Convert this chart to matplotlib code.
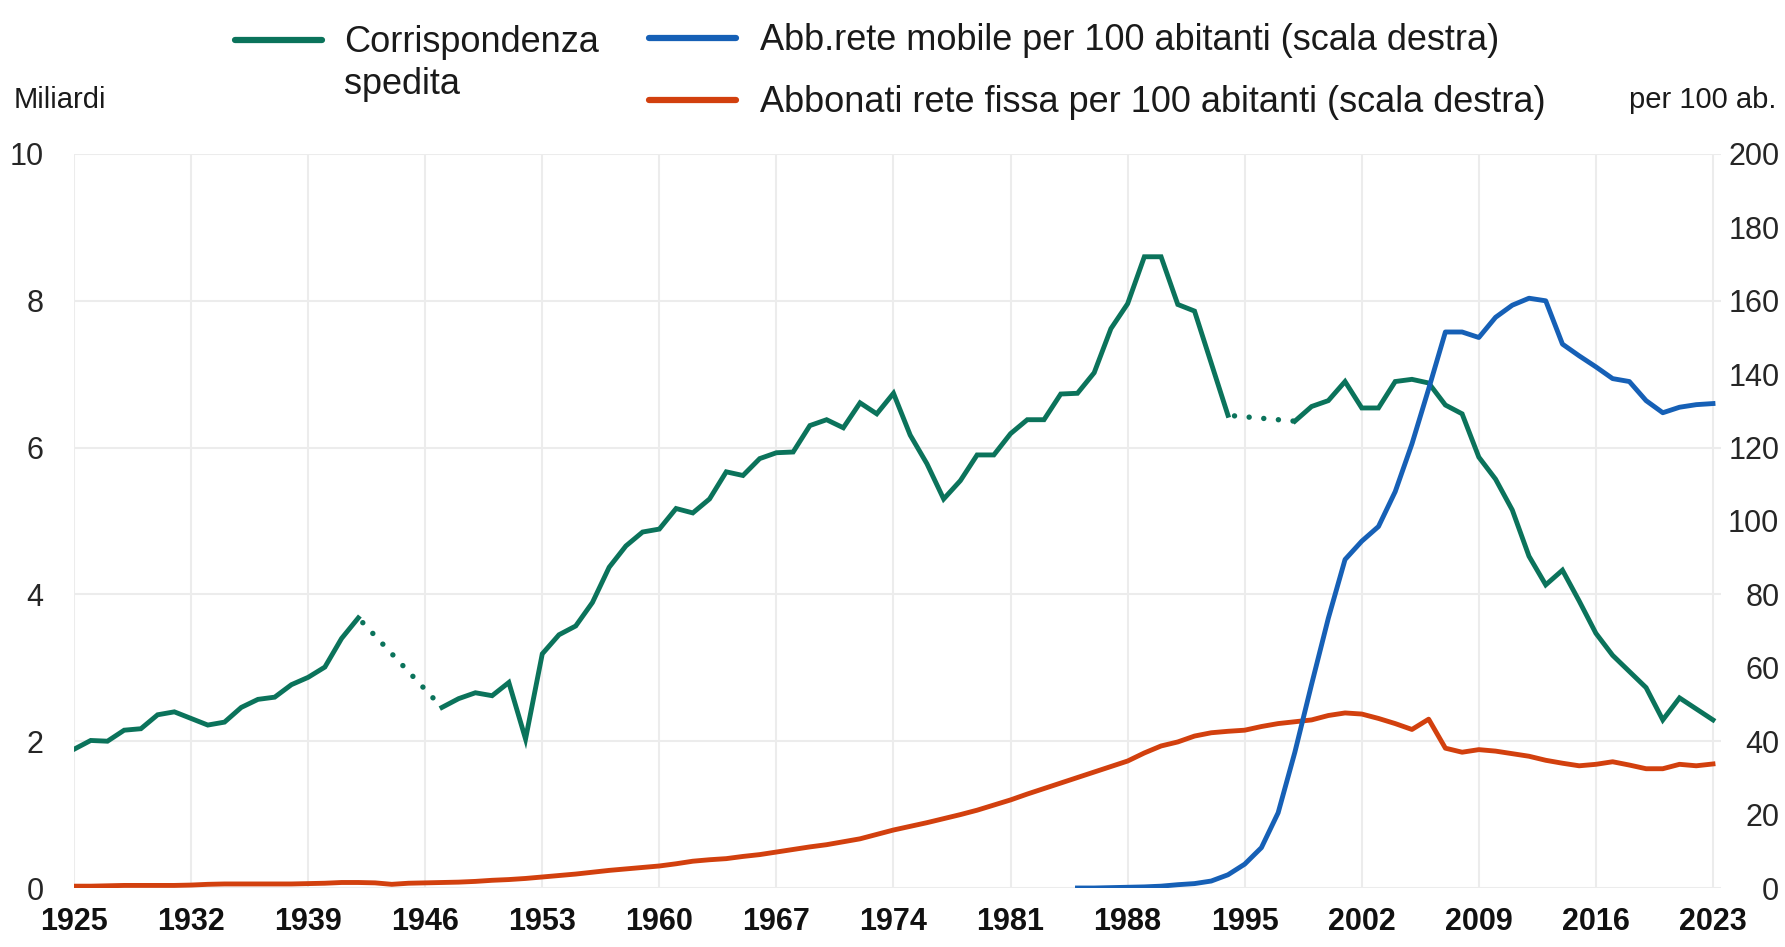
import numpy as np
import matplotlib.pyplot as plt
from matplotlib import font_manager
from matplotlib.lines import Line2D

names = {f.name for f in font_manager.fontManager.ttflist}
main_font = 'Liberation Sans Narrow' if 'Liberation Sans Narrow' in names else 'Liberation Sans'
plt.rcParams['font.family'] = [main_font, 'DejaVu Sans']

# data
years = np.arange(1925, 2024)

posta = [1.89, 2.01, 2.00, 2.15, 2.17, 2.36, 2.40, 2.31, 2.22, 2.26,      # 1925-1934
         2.46, 2.57, 2.60, 2.77, 2.87, 3.01, 3.40, 3.68,                  # 1935-1942
         None, None, None, None,                                          # 1943-1946
         2.46, 2.58, 2.66, 2.62, 2.80, 2.03, 3.19, 3.45,                  # 1947-1954
         3.57, 3.89, 4.37, 4.66, 4.85, 4.89, 5.17, 5.11, 5.30, 5.67,      # 1955-1964
         5.62, 5.85, 5.93, 5.94, 6.30, 6.38, 6.27, 6.61, 6.46, 6.74,      # 1965-1974
         6.17, 5.78, 5.30, 5.55, 5.90, 5.90, 6.19, 6.38, 6.38, 6.73,      # 1975-1984
         6.74, 7.02, 7.62, 7.96, 8.60, 8.60, 7.95, 7.86, 7.15, 6.44,      # 1985-1994
         None, None, None,                                                # 1995-1997
         6.36, 6.56, 6.64, 6.90, 6.54, 6.54, 6.90,                        # 1998-2004
         6.93, 6.88, 6.58, 6.46, 5.87, 5.57, 5.15, 4.52, 4.13, 4.33,      # 2005-2014
         3.91, 3.47, 3.17, 2.95, 2.73, 2.29, 2.59, 2.44, 2.29]            # 2015-2023

fissa = [0.5, 0.5, 0.6, 0.7, 0.7, 0.7, 0.7, 0.8, 1.0, 1.1,
         1.1, 1.1, 1.1, 1.1, 1.2, 1.3, 1.5, 1.5, 1.4, 1.0,
         1.3, 1.4, 1.5, 1.6, 1.8, 2.1, 2.3, 2.6, 3.0, 3.4,
         3.8, 4.3, 4.8, 5.2, 5.6, 6.0, 6.6, 7.3, 7.7, 8.0,
         8.6, 9.1, 9.8, 10.5, 11.2, 11.8, 12.6, 13.4, 14.6, 15.8,
         16.8, 17.8, 18.9, 20.0, 21.2, 22.6, 24.0, 25.6, 27.1, 28.6,
         30.1, 31.6, 33.1, 34.6, 36.8, 38.7, 39.8, 41.4, 42.3, 42.7,
         43.0, 44.0, 44.8, 45.3, 45.8, 47.0, 47.7, 47.4, 46.2, 44.8,
         43.2, 46.0, 38.1, 37.0, 37.7, 37.3, 36.6, 35.9, 34.8, 34.0,
         33.3, 33.7, 34.4, 33.5, 32.5, 32.5, 33.7, 33.3, 33.8]

mobile_start = 1985
mobile = [0.0, 0.0, 0.1, 0.2, 0.3, 0.5, 0.9, 1.2, 1.9, 3.6,
          6.5, 11.0, 20.5, 37.0, 55.5, 73.5, 89.5, 94.5, 98.5, 108.0,
          121.0, 136.0, 151.5, 151.5, 150.0, 155.5, 158.8, 160.7, 160.0, 148.2,
          145.0, 142.0, 138.8, 138.0, 132.8, 129.5, 131.0, 131.7, 132.0]

labels = ['Corrispondenza\nspedita',
          'Abb.rete mobile per 100 abitanti (scala destra)',
          'Abbonati rete fissa per 100 abitanti (scala destra)']
colors = ['#0b735b', '#1660b6', '#d2400e']
xticks = np.arange(1925, 2024, 7)

W, H = 1785, 947
fig = plt.figure(figsize=(W / 100, H / 100), dpi=100)
ax = fig.add_axes([74 / W, 1 - 888 / H, (1721 - 74) / W, (888 - 154) / H])
ax2 = ax.twinx()

ax.set_xlim(1925, 2023.48)
ax.set_ylim(0, 10)
ax2.set_ylim(0, 200)
ax.set_xticks(xticks)
ax.set_yticks(np.arange(0, 11, 2))
ax2.set_yticks(np.arange(0, 201, 20))
ax.grid(True, color='#ececec', lw=1.5)
ax.set_axisbelow(True)
for a in (ax, ax2):
    for s in a.spines.values():
        s.set_visible(False)

# corrispondenza: solid where data exist, dotted across the gaps
p = np.array([np.nan if v is None else v for v in posta])
ax.plot(years, p, color=colors[0], lw=3.5, solid_joinstyle='miter')
ok = np.where(~np.isnan(p))[0]
for i, j in zip(ok[:-1], ok[1:]):
    if j - i > 1:
        ax.plot([years[i], years[j]], [p[i], p[j]], color=colors[0], lw=3.9,
                linestyle=(1.5, (0.01, 2.7)), dash_capstyle='round')

ax2.plot(years, fissa, color=colors[2], lw=3.5)
ax2.plot(np.arange(mobile_start, mobile_start + len(mobile)), mobile, color=colors[1], lw=3.5)

ax.tick_params(axis='y', length=0, pad=22, labelsize=22, labelcolor='#262626')
ax.tick_params(axis='x', length=0, pad=14, labelsize=22, labelcolor='#111111')
for lab in ax.get_xticklabels():
    lab.set_fontweight('bold')
ax2.tick_params(axis='y', length=0, pad=42, labelsize=22, labelcolor='#262626')
for lab in ax2.get_yticklabels():
    lab.set_horizontalalignment('right')

# legend drawn at the top
def handle(x0, x1, y, c):
    fig.add_artist(Line2D([x0 / W, x1 / W], [1 - y / H, 1 - y / H], transform=fig.transFigure,
                          color=c, lw=4.5, solid_capstyle='round'))

handle(235, 322, 40, colors[0])
fig.text(344 / W, 1 - 94 / H, labels[0], fontsize=26, va='baseline', linespacing=1.25, color='#1a1a1a')
handle(649, 736, 38, colors[1])
fig.text(760 / W, 1 - 50 / H, labels[1], fontsize=26, va='baseline', color='#1a1a1a')
handle(649, 736, 100, colors[2])
fig.text(760 / W, 1 - 112 / H, labels[2], fontsize=26, va='baseline', color='#1a1a1a')

fig.text(14 / W, 1 - 108 / H, 'Miliardi', fontsize=21, va='baseline', color='#1a1a1a')
fig.text(1776 / W, 1 - 108 / H, 'per 100 ab.', fontsize=21, va='baseline', ha='right', color='#1a1a1a')

fig.savefig('out.png', dpi=100)
